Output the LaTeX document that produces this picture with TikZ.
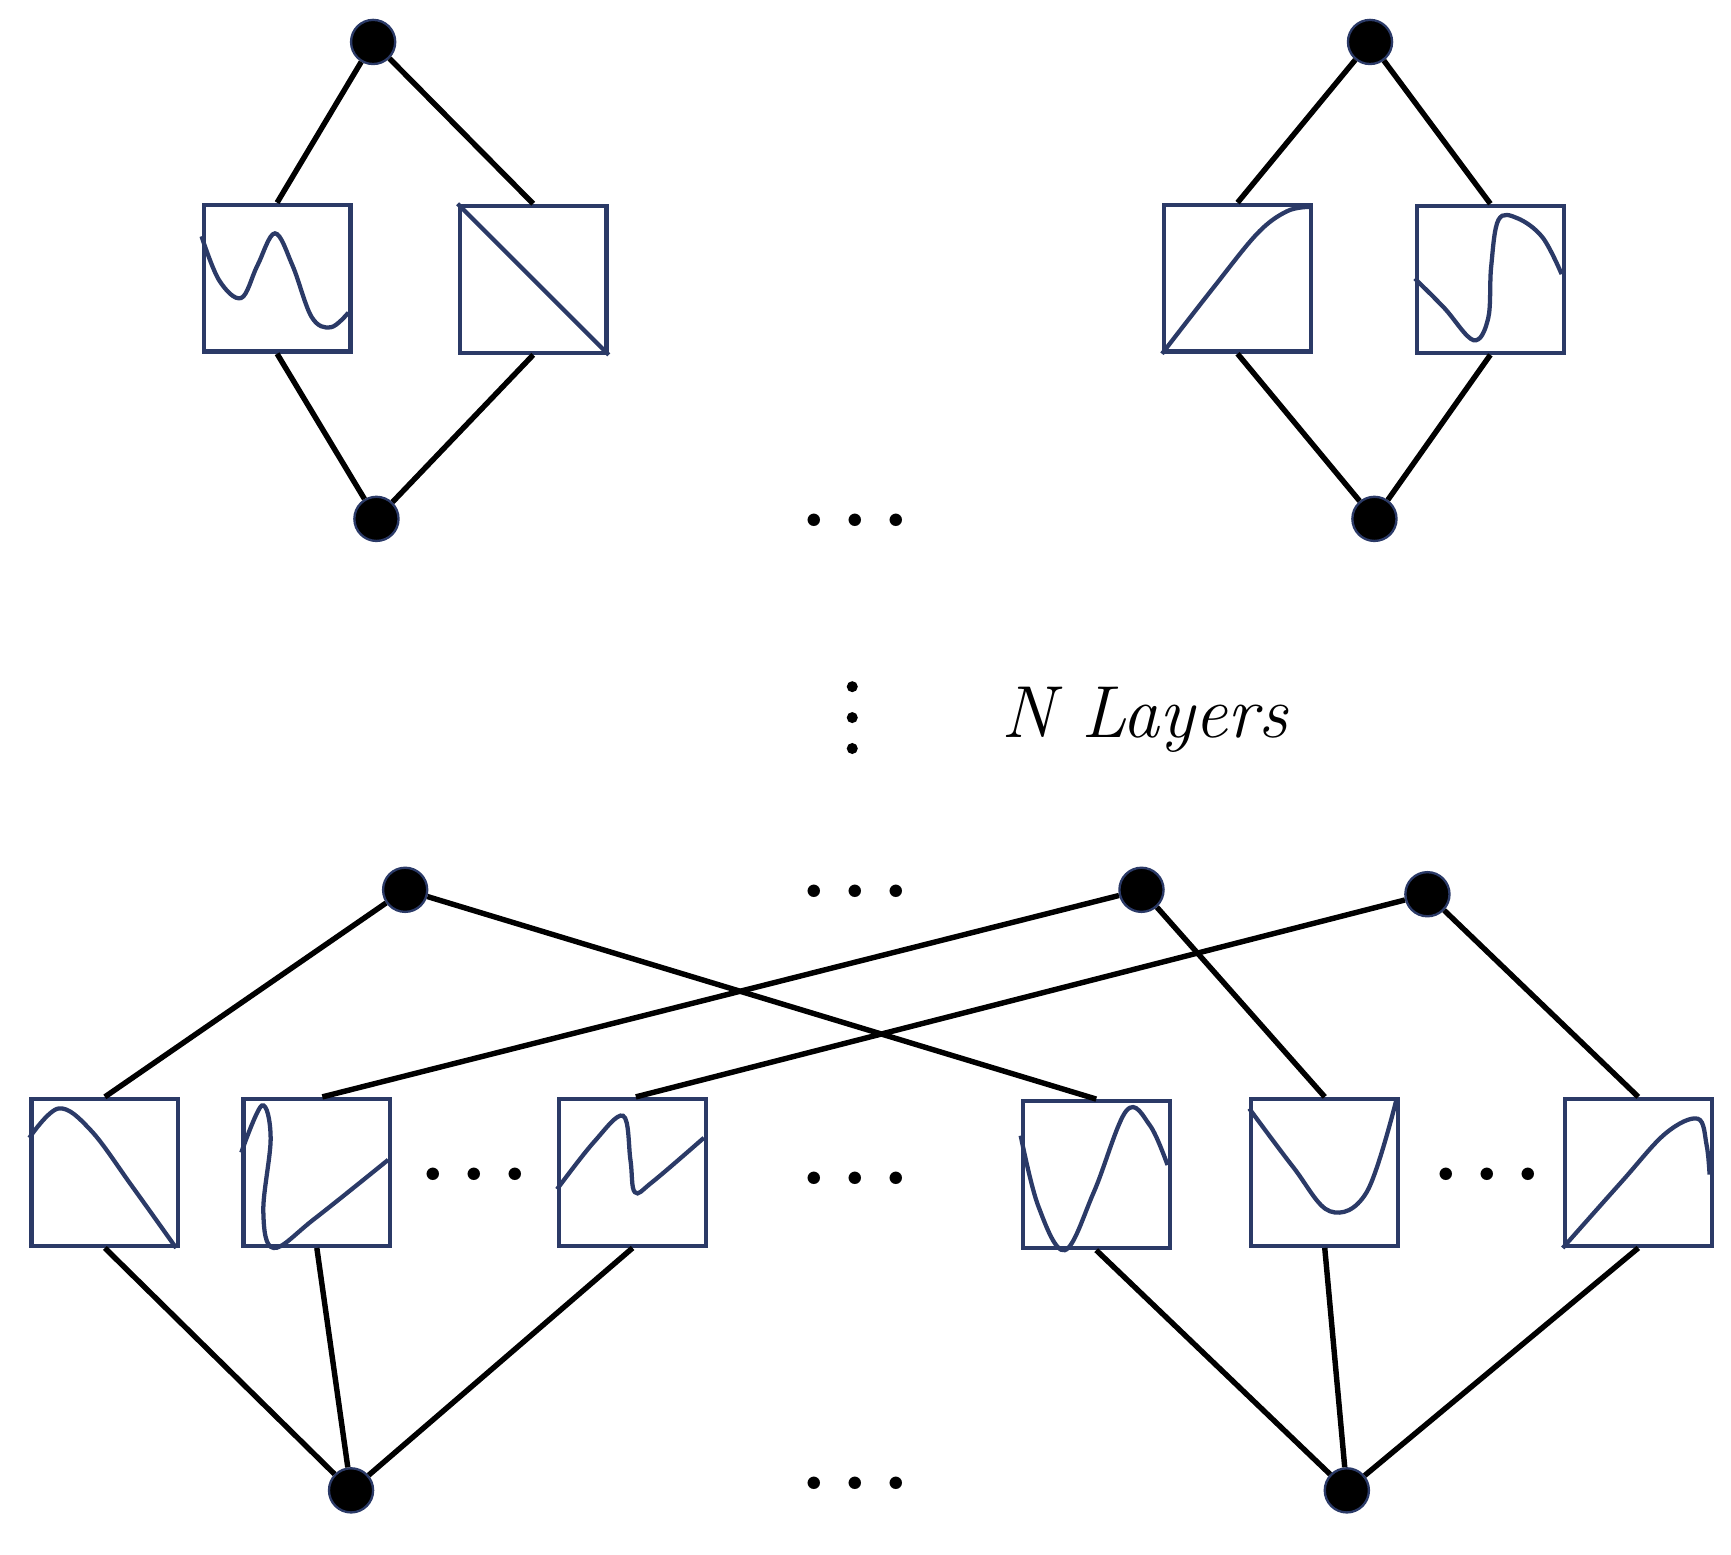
\documentclass[tikz,border=0pt]{standalone}
\usepackage{tikz}
\definecolor{navy}{HTML}{2B3A67}
\tikzset{
  unit/.style={circle, fill=black, draw=navy, line width=0.6pt, minimum size=0.4cm, inner sep=0pt},
  box/.style={draw=navy, line width=1.1pt, minimum size=1.33cm, inner sep=0pt},
  edge/.style={line width=1.4pt, black},
  curve/.style={navy, line width=1.1pt},
  dots/.style={font=\fontsize{22}{24}\selectfont\boldmath}
}
% draws a curve inside a box, in box coordinates 0..1
\newcommand{\boxcurve}[2]{%
  \begin{scope}[shift={(#1.south west)}, x=1.33cm, y=1.33cm]
    \draw[curve] plot[smooth, tension=0.6] coordinates {#2};
  \end{scope}}

\begin{document}
\begin{tikzpicture}
  \useasboundingbox (0,0) rectangle (15.68,-14.08);

  % top left block
  \node[unit] (tl) at (3.38,-0.38) {};
  \node[unit] (bl) at (3.41,-4.70) {};
  \node[box] (a1) at (2.51,-2.52) {};
  \node[box] (a2) at (4.83,-2.53) {};
  \boxcurve{a1}{(0,0.8) (0.12,0.5) (0.27,0.38) (0.38,0.6) (0.5,0.82) (0.62,0.6) (0.75,0.25) (0.88,0.18) (1,0.28)}
  \draw[curve] (a2.north west) -- (a2.south east);
  \draw[edge] (tl) -- (a1.north);
  \draw[edge] (tl) -- (a2.north);
  \draw[edge] (a1.south) -- (bl);
  \draw[edge] (a2.south) -- (bl);

  % top right block
  \node[unit] (tr) at (12.41,-0.38) {};
  \node[unit] (br) at (12.45,-4.70) {};
  \node[box] (a3) at (11.21,-2.52) {};
  \node[box] (a4) at (13.50,-2.53) {};
  \boxcurve{a3}{(0,0) (0.35,0.45) (0.65,0.82) (0.85,0.97) (1,1)}
  \boxcurve{a4}{(0,0.52) (0.2,0.32) (0.4,0.1) (0.5,0.25) (0.52,0.6) (0.57,0.92) (0.7,0.93) (0.87,0.8) (1,0.55)}
  \draw[edge] (tr) -- (a3.north);
  \draw[edge] (tr) -- (a4.north);
  \draw[edge] (a3.south) -- (br);
  \draw[edge] (a4.south) -- (br);

  \node[dots] (d1) at (7.75,-4.72) {$\cdots$};
  \foreach \y in {-6.22,-6.5,-6.78}
    \fill (7.72,\y) circle (0.05);
  \node[font=\fontsize{19}{22}\selectfont\itshape, anchor=west] (lab) at (8.95,-6.52) {N Layers};

  % bottom layer
  \node[unit] (n1) at (3.67,-8.06) {};
  \node[unit] (n2) at (10.34,-8.06) {};
  \node[unit] (n3) at (12.93,-8.10) {};
  \node[dots] (d3) at (7.75,-8.08) {$\cdots$};
  \node[box] (b1) at (0.95,-10.62) {};
  \node[box] (b2) at (2.87,-10.62) {};
  \node[box] (b3) at (5.73,-10.62) {};
  \node[box] (b4) at (9.93,-10.64) {};
  \node[box] (b5) at (12.00,-10.62) {};
  \node[box] (b6) at (14.84,-10.62) {};
  \node[dots] (d4) at (4.30,-10.65) {$\cdots$};
  \node[dots] (d5) at (7.75,-10.68) {$\cdots$};
  \node[dots] (d6) at (13.47,-10.65) {$\cdots$};
  \boxcurve{b1}{(0,0.75) (0.2,0.95) (0.42,0.8) (0.7,0.42) (1,0)}
  \boxcurve{b2}{(0,0.65) (0.14,0.97) (0.2,0.75) (0.15,0.25) (0.22,0) (0.5,0.2) (1,0.6)}
  \boxcurve{b3}{(0,0.4) (0.25,0.72) (0.45,0.9) (0.5,0.6) (0.53,0.38) (0.65,0.45) (1,0.75)}
  \boxcurve{b4}{(0,0.78) (0.12,0.3) (0.3,0) (0.5,0.4) (0.72,0.95) (0.88,0.85) (1,0.58)}
  \boxcurve{b5}{(0,0.95) (0.3,0.55) (0.55,0.25) (0.8,0.38) (1,1)}
  \boxcurve{b6}{(0,0) (0.4,0.45) (0.7,0.78) (0.92,0.88) (0.98,0.7) (1,0.5)}
  \draw[edge] (n1) -- (b1.north);
  \draw[edge] (n1) -- (b4.north);
  \draw[edge] (n2) -- ([xshift=0.05cm]b2.north);
  \draw[edge] (n2) -- (b5.north);
  \draw[edge] (n3) -- ([xshift=0.03cm]b3.north);
  \draw[edge] (n3) -- (b6.north);

  \node[unit] (m1) at (3.18,-13.50) {};
  \node[unit] (m2) at (12.20,-13.50) {};
  \node[dots] (d7) at (7.75,-13.45) {$\cdots$};
  \draw[edge] (b1.south) -- (m1);
  \draw[edge] (b2.south) -- (m1);
  \draw[edge] (b3.south) -- (m1);
  \draw[edge] (b4.south) -- (m2);
  \draw[edge] (b5.south) -- (m2);
  \draw[edge] (b6.south) -- (m2);
\end{tikzpicture}
\end{document}
